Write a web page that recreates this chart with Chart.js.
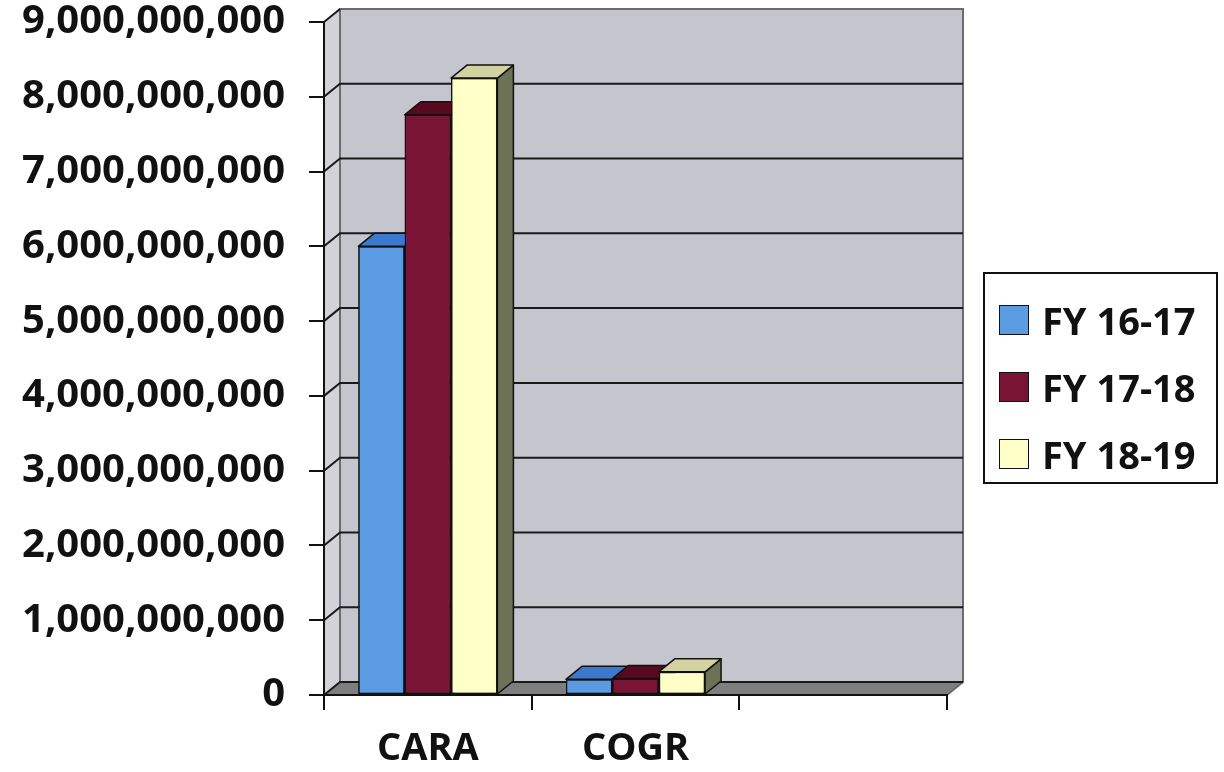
<!DOCTYPE html>
<html>
<head>
<meta charset="utf-8">
<script src="https://cdn.jsdelivr.net/npm/chart.js@4.4.0/dist/chart.umd.min.js"></script>
<style>
  html, body { margin: 0; padding: 0; background: #fff; }
  #wrap { position: relative; width: 1224px; height: 772px; }
  #legend {
    position: absolute; left: 983px; top: 272px; width: 231px; height: 208px;
    border: 2px solid #111; box-sizing: content-box;
    font-family: "Open Sans", sans-serif; font-weight: 700; font-size: 38px; color: #111;
  }
  .legend-row { position: absolute; left: 14px; height: 40px; display: flex; align-items: center; }
  .legend-box { width: 28px; height: 28px; border: 1.5px solid #111; margin-right: 13px; }
</style>
</head>
<body>
<div id="wrap">
  <canvas id="chart" width="1224" height="772"></canvas>
  <div id="legend"></div>
</div>
<script>
// chart data
const categories = ['CARA', 'COGR', ''];
const seriesNames = ['FY 16-17', 'FY 17-18', 'FY 18-19'];
const fy1617 = [6000000000, 210000000, null];
const fy1718 = [7760000000, 220000000, null];
const fy1819 = [8250000000, 310000000, null];
const yTicks = [0, 1e9, 2e9, 3e9, 4e9, 5e9, 6e9, 7e9, 8e9, 9e9];

// colours: front, top, side
const frontColors = ['#5a9be2', '#7a1434', '#ffffc8'];
const topColors = ['#3b79cf', '#58091f', '#d3d3a2'];
const sideColors = ['#2d5c9c', '#44071a', '#6d7257'];

const DEPTH_X = 16;
const DEPTH_Y = -13;

const wallsPlugin = {
    id: 'walls',
    beforeDraw(chart) {
        const { ctx, chartArea: a, scales } = chart;
        const y = scales.y;
        const top = y.getPixelForValue(yTicks[yTicks.length - 1]);
        const bot = y.getPixelForValue(0);
        ctx.save();
        // back wall
        ctx.fillStyle = '#c5c5cd';
        ctx.fillRect(a.left + DEPTH_X, top + DEPTH_Y, a.right - a.left, bot - top);
        // side wall
        ctx.fillStyle = '#d2d2d8';
        ctx.beginPath();
        ctx.moveTo(a.left, top);
        ctx.lineTo(a.left + DEPTH_X, top + DEPTH_Y);
        ctx.lineTo(a.left + DEPTH_X, bot + DEPTH_Y);
        ctx.lineTo(a.left, bot);
        ctx.closePath();
        ctx.fill();
        // floor
        ctx.fillStyle = '#7e7e80';
        ctx.beginPath();
        ctx.moveTo(a.left, bot);
        ctx.lineTo(a.right, bot);
        ctx.lineTo(a.right + DEPTH_X, bot + DEPTH_Y);
        ctx.lineTo(a.left + DEPTH_X, bot + DEPTH_Y);
        ctx.closePath();
        ctx.fill();
        // wall outline
        ctx.strokeStyle = '#6c6c6e';
        ctx.lineWidth = 2;
        ctx.beginPath();
        ctx.moveTo(a.left + DEPTH_X, bot + DEPTH_Y);
        ctx.lineTo(a.left + DEPTH_X, top + DEPTH_Y);
        ctx.lineTo(a.right + DEPTH_X, top + DEPTH_Y);
        ctx.lineTo(a.right + DEPTH_X, bot + DEPTH_Y);
        ctx.lineTo(a.right, bot);
        ctx.stroke();
        // gridlines
        ctx.strokeStyle = '#1a1a1a';
        ctx.lineWidth = 2;
        yTicks.forEach(v => {
            const py = y.getPixelForValue(v);
            ctx.beginPath();
            ctx.moveTo(a.left, py);
            ctx.lineTo(a.left + DEPTH_X, py + DEPTH_Y);
            if (v !== yTicks[yTicks.length - 1]) ctx.lineTo(a.right + DEPTH_X, py + DEPTH_Y);
            ctx.stroke();
        });
        ctx.restore();
    }
};

const bars3dPlugin = {
    id: 'bars3d',
    afterDatasetsDraw(chart) {
        const ctx = chart.ctx;
        ctx.save();
        ctx.lineWidth = 1.5;
        ctx.strokeStyle = '#111';
        ctx.lineJoin = 'round';
        categories.forEach((c, i) => {
            chart.data.datasets.forEach((ds, d) => {
                const bar = chart.getDatasetMeta(d).data[i];
                if (!bar || ds.data[i] == null) return;
                const p = bar.getProps(['x', 'y', 'base', 'width'], true);
                const l = p.x - p.width / 2, r = p.x + p.width / 2;
                // side face
                ctx.fillStyle = sideColors[d];
                ctx.beginPath();
                ctx.moveTo(r, p.y);
                ctx.lineTo(r + DEPTH_X, p.y + DEPTH_Y);
                ctx.lineTo(r + DEPTH_X, p.base + DEPTH_Y);
                ctx.lineTo(r, p.base);
                ctx.closePath();
                ctx.fill();
                ctx.stroke();
                // top face
                ctx.fillStyle = topColors[d];
                ctx.beginPath();
                ctx.moveTo(l, p.y);
                ctx.lineTo(l + DEPTH_X, p.y + DEPTH_Y);
                ctx.lineTo(r + DEPTH_X, p.y + DEPTH_Y);
                ctx.lineTo(r, p.y);
                ctx.closePath();
                ctx.fill();
                ctx.stroke();
                bar.draw(ctx);
            });
        });
        ctx.restore();
    }
};

const xFont = { family: '"Open Sans", sans-serif', weight: 'bold', size: 38 };
const yFont = { family: '"Open Sans", sans-serif', weight: 'bold', size: 40 };

new Chart(document.getElementById('chart'), {
    type: 'bar',
    data: {
        labels: categories,
        datasets: [fy1617, fy1718, fy1819].map((data, d) => ({
            label: seriesNames[d],
            data,
            backgroundColor: frontColors[d],
            borderColor: '#111',
            borderWidth: 1.5,
            borderSkipped: false,
            categoryPercentage: 0.67,
            barPercentage: 1.0
        }))
    },
    options: {
        responsive: false,
        animation: false,
        layout: { padding: { top: 0, right: 277, bottom: 0, left: 0 } },
        plugins: { legend: { display: false }, tooltip: { enabled: false } },
        scales: {
            x: {
                grid: { offset: true, drawOnChartArea: false, color: '#111', lineWidth: 2, tickLength: 15 },
                border: { display: true, color: '#111', width: 2 },
                ticks: { color: '#111', font: xFont, padding: 16 },
                afterFit(s) { s.height = 77; }
            },
            y: {
                min: 0,
                max: 9e9,
                afterBuildTicks(s) { s.ticks = yTicks.map(v => ({ value: v })); },
                grid: { drawOnChartArea: false, color: '#111', lineWidth: 2, tickLength: 15 },
                border: { display: true, color: '#111', width: 2 },
                ticks: {
                    color: '#111',
                    font: yFont,
                    padding: 24,
                    callback: v => Number(v).toLocaleString('en-US')
                },
                afterFit(s) {
                    s.width = 324;
                    s.paddingTop = 22;
                    s.paddingBottom = 0;
                }
            }
        }
    },
    plugins: [wallsPlugin, bars3dPlugin]
});

// legend
const legend = document.getElementById('legend');
seriesNames.forEach((name, d) => {
    const row = document.createElement('div');
    row.className = 'legend-row';
    row.style.top = (26 + d * 67) + 'px';
    row.innerHTML = `<span class="legend-box" style="background:${frontColors[d]}"></span><span>${name}</span>`;
    legend.appendChild(row);
});
</script>
</body>
</html>
